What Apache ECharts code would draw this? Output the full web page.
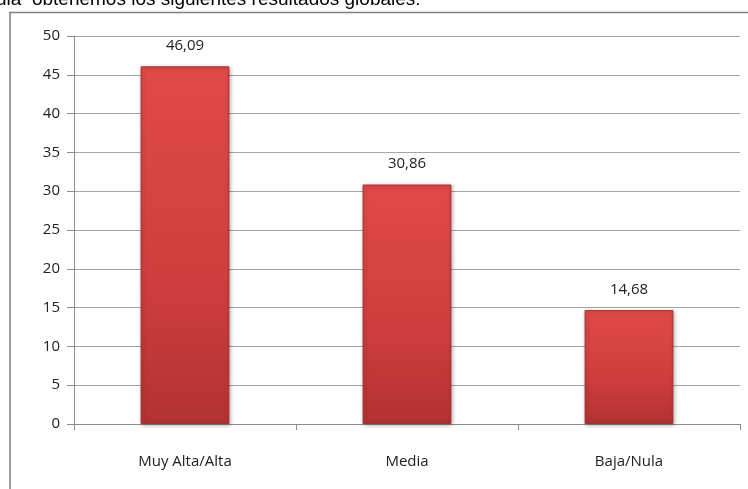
<!DOCTYPE html>
<html>
<head>
<meta charset="utf-8">
<script src="https://cdn.jsdelivr.net/npm/echarts@6/dist/echarts.min.js"></script>
<style>
  html, body { margin: 0; padding: 0; background: #fff; }
  #chart { width: 748px; height: 489px; }
</style>
</head>
<body>
<div id="chart"></div>
<script>
  const categories = ['Muy Alta/Alta', 'Media', 'Baja/Nula']
  const values = [46.09, 30.86, 14.68]
  const yTicks = [0, 5, 10, 15, 20, 25, 30, 35, 40, 45, 50]

  const mChart = echarts.init(document.getElementById('chart'))
  const option = {
    animation: false,
    graphic: [
      // frase cortada arriba
      {
        type: 'text', left: -4, top: -10,
        style: { text: 'dia  obtenemos los siguientes resultados globales:', font: '19px "Liberation Sans", Arial, sans-serif', fill: '#000' }
      },
      // marco del gráfico
      {
        type: 'polyline',
        shape: { points: [[10, 489], [10, 12.5], [748, 12.5]] },
        style: { stroke: '#7f7f7f', lineWidth: 1.5, fill: null }
      }
    ],
    grid: { left: 74, right: 8, top: 36, bottom: 65 },
    xAxis: {
      type: 'category',
      data: categories,
      axisLine: { lineStyle: { color: '#8c8c8c' } },
      axisTick: { show: true, length: 6, lineStyle: { color: '#8c8c8c' } },
      axisLabel: { color: '#222', fontSize: 15, margin: 30, fontFamily: '"Open Sans", sans-serif' }
    },
    yAxis: {
      type: 'value',
      min: 0, max: 50, interval: 5,
      axisLine: { show: true, lineStyle: { color: '#8c8c8c' } },
      axisTick: { show: true, length: 7, lineStyle: { color: '#8c8c8c' } },
      axisLabel: { color: '#222', fontSize: 15, margin: 14, fontFamily: '"Open Sans", sans-serif',
        formatter: v => yTicks.includes(v) ? String(v) : '' },
      splitLine: { lineStyle: { color: '#a6a6a6' } }
    },
    series: [{
      type: 'bar',
      barWidth: '40%',
      data: values,
      itemStyle: {
        color: {
          type: 'linear', x: 0, y: 0, x2: 0, y2: 1,
          colorStops: [
            { offset: 0, color: '#e04a48' },
            { offset: 0.6, color: '#cf3e3c' },
            { offset: 1, color: '#b23232' }
          ]
        },
        borderColor: '#a82e2e',
        borderWidth: 1,
        shadowColor: 'rgba(0,0,0,0.3)',
        shadowBlur: 4,
        shadowOffsetX: 1,
        shadowOffsetY: 1
      },
      label: {
        show: true, position: 'top', distance: 13,
        color: '#222', fontSize: 15, fontFamily: '"Open Sans", sans-serif',
        formatter: p => p.value.toFixed(2).replace('.', ',')
      }
    }]
  }
  mChart.setOption(option)
  window.addEventListener('resize', function() {
    mChart.resize()
  })
</script>
</body>
</html>
